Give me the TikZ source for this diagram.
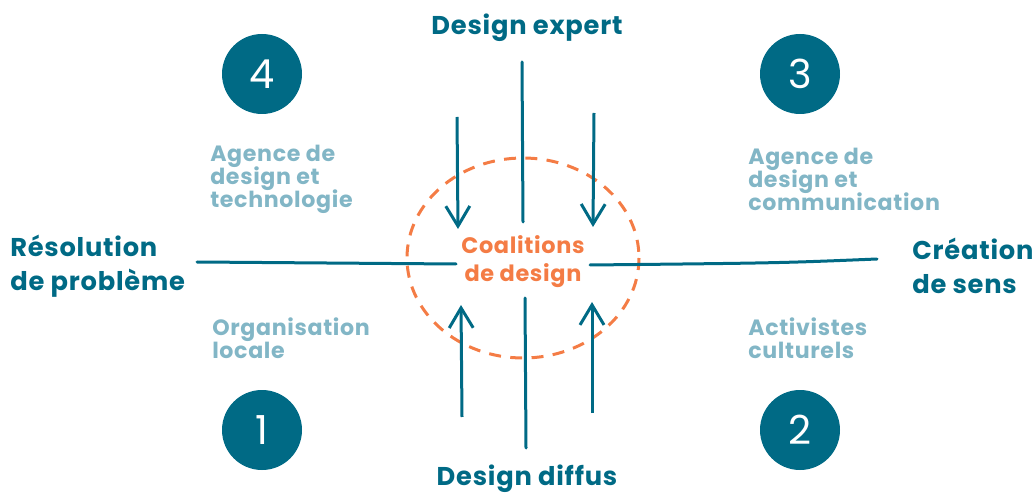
\documentclass[tikz,border=0pt]{standalone}
\usepackage{fontspec}
\setmainfont{Poppins}[LetterSpace=3]
\usepackage{tikz}
\usetikzlibrary{arrows.meta,positioning,shapes.geometric}
\definecolor{cdteal}{HTML}{006A85}
\definecolor{cdgrey}{HTML}{82B6C6}
\definecolor{cdorange}{HTML}{F47C45}
\lineskiplimit=-100pt

\begin{document}
\begin{tikzpicture}[x=0.75pt, y=-0.75pt,
  num/.style={circle, fill=cdteal, text=white, minimum size=60pt, inner sep=0pt,
              font=\fontsize{30}{30}\selectfont},
  pole/.style={text=cdteal, align=left, inner sep=0pt, font=\bfseries\fontsize{19.3}{25.5}\selectfont},
  actor/.style={text=cdgrey, align=left, inner sep=0pt, anchor=west, font=\bfseries\fontsize{16.6}{17.25}\selectfont},
  coal/.style={ellipse, draw=cdorange, dash pattern=on 9pt off 7pt, line width=2.25pt,
               minimum width=174pt, minimum height=150pt, text=cdorange, align=center,
               font=\bfseries\fontsize{16.8}{21}\selectfont},
  axisline/.style={draw=cdteal, line width=2.25pt, line cap=round},
  arr/.style={-{Straight Barb[length=15pt,width=18pt,line width=2.25pt]}, draw=cdteal, line width=2.25pt}]
\useasboundingbox (0,0) rectangle (1032,495);

% centre
\draw[coal] (523,258) ellipse[x radius=116, y radius=100];
\node[text=cdorange, align=center, font=\bfseries\fontsize{16.8}{21}\selectfont] (coal) at (523,262) {Coalitions\\de design};

% poles
\node[pole] (expert) at (527,28) {Design expert};
\node[pole] (diffus) at (527,479) {Design diffus};
\node[pole, anchor=west] (resol) at (10,266) {Résolution\\de problème};
\node[pole, anchor=west] (sens) at (912,266) {Création\\de sens};

% quadrants
\node[num] (q4) at (262,74) {4};
\node[num] (q3) at (800,74) {3};
\node[num] (q1) at (262,430) {1};
\node[num] (q2) at (800,430) {2};
\node[actor] (techno) at (210,179) {Agence de\\design et\\technologie};
\node[actor] (comm) at (748,179) {Agence de\\design et\\communication};
\node[actor] (locale) at (212,338) {Organisation\\locale};
\node[actor] (cult) at (748,338) {Activistes\\culturels};

% axes
\coordinate (vt) at (522,62);   \coordinate (vti) at (523,222);
\coordinate (vb) at (526,448);  \coordinate (vbi) at (525,298);
\coordinate (hl) at (197,262);  \coordinate (hli) at (456,264);
\coordinate (hr) at (877,259);  \coordinate (hri) at (590,265);
\draw[axisline] (vt) -- (vti);
\draw[axisline] (vb) -- (vbi);
\draw[axisline] (hl) -- (hli);
\draw[axisline] (hr) .. controls (780,263) .. (hri);

% arrows
\coordinate (a1s) at (457,117); \coordinate (a1e) at (458,229);
\coordinate (a2s) at (594,113); \coordinate (a2e) at (593,227);
\coordinate (a3s) at (462,417); \coordinate (a3e) at (461,305);
\coordinate (a4s) at (592,413); \coordinate (a4e) at (592,302);
\draw[arr] (a1s) -- (a1e);
\draw[arr] (a2s) -- (a2e);
\draw[arr] (a3s) -- (a3e);
\draw[arr] (a4s) -- (a4e);
\end{tikzpicture}
\end{document}
